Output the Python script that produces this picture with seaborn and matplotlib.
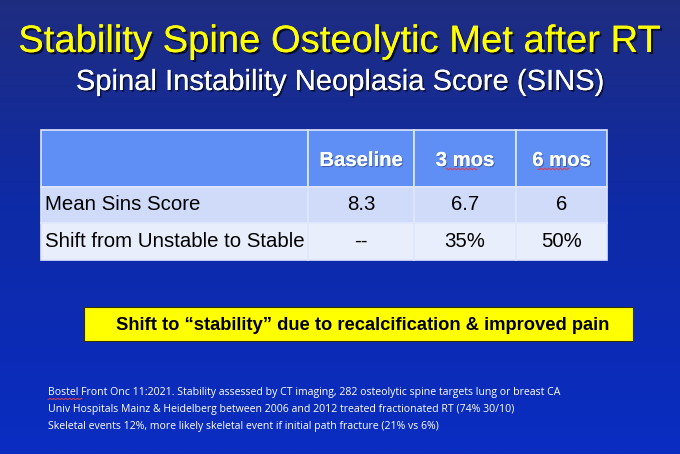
import numpy as np
import matplotlib
matplotlib.use("Agg")
import matplotlib.pyplot as plt
import matplotlib.patheffects as pe
from matplotlib.patches import Rectangle
from matplotlib.colors import LinearSegmentedColormap
import seaborn as sns

# ---- data ----
title = "Stability Spine Osteolytic Met after RT"
subtitle = "Spinal Instability Neoplasia Score (SINS)"
col_headers = ["", "Baseline", "3 mos", "6 mos"]
row_labels = ["Mean Sins Score", "Shift from Unstable to Stable"]
mean_sins = ["8.3", "6.7", "6"]
shift_stable = ["--", "35%", "50%"]
highlight = "Shift to \u201cstability\u201d due to recalcification & improved pain"
footnotes = [
    "Bostel Front Onc 11:2021. Stability assessed by CT imaging, 282 osteolytic spine targets lung or breast CA",
    "Univ Hospitals Mainz & Heidelberg between 2006 and 2012 treated fractionated RT (74% 30/10)",
    "Skeletal events 12%, more likely skeletal event if initial path fracture (21% vs 6%)",
]

sns.set_theme(style="white")
plt.rcParams["font.family"] = ["Liberation Sans", "DejaVu Sans"]

W, H = 680, 454
fig = plt.figure(figsize=(6.8, 4.54), dpi=100)
ax = fig.add_axes([0, 0, 1, 1])
ax.set_xlim(0, W)
ax.set_ylim(H, 0)
ax.axis("off")

# background gradient
grad = np.linspace(0, 1, 256).reshape(-1, 1)
bg_cmap = LinearSegmentedColormap.from_list(
    "bg", [(0, "#1f2d80"), (0.45, "#0e2aa6"), (1, "#0a2dc2")])
ax.imshow(grad, cmap=bg_cmap, extent=[0, W, H, 0], aspect="auto", zorder=0)

# titles
ax.text(340, 42, title, color="#ffff00", fontsize=27.5, ha="center", va="center",
        path_effects=[pe.withSimplePatchShadow(offset=(1.5, -1.5), shadow_rgbFace="black", alpha=0.7),
                      pe.Normal()], zorder=3)
ax.text(340, 82, subtitle, color="white", fontsize=21, ha="center", va="center",
        path_effects=[pe.withSimplePatchShadow(offset=(1.2, -1.2), shadow_rgbFace="black", alpha=0.6),
                      pe.Normal()], zorder=3)

# table
col_edges = [41, 308, 414, 516, 607]
row_edges = [130, 187, 223, 260]
row_colors = ["#5f8ff4", "#d0dbfa", "#e9eefc"]
rows = [col_headers, [row_labels[0]] + mean_sins, [row_labels[1]] + shift_stable]
for r in range(3):
    for c in range(4):
        x0, x1 = col_edges[c], col_edges[c + 1]
        y0, y1 = row_edges[r], row_edges[r + 1]
        ax.add_patch(Rectangle((x0, y0), x1 - x0, y1 - y0, facecolor=row_colors[r],
                               edgecolor="#dfe7fd", linewidth=1.2, zorder=2))
        txt = rows[r][c]
        if not txt:
            continue
        yc = (y0 + y1) / 2 + (2 if r == 0 else 0)
        if r == 0:
            ax.text((x0 + x1) / 2, yc, txt, color="white", fontsize=14.6, fontweight="bold",
                    ha="center", va="center", zorder=4,
                    path_effects=[pe.withSimplePatchShadow(offset=(0.8, -0.8), shadow_rgbFace="#203070", alpha=0.5),
                                  pe.Normal()])
        elif c == 0:
            ax.text(x0 + 4, yc, txt, color="black", fontsize=14.7, ha="left", va="center", zorder=4)
        else:
            ax.text((x0 + x1) / 2, yc, txt, color="black", fontsize=14.7, ha="center",
                    va="center", zorder=4)

# spellcheck squiggles under "mos"
for xs in [(446, 477), (538, 569)]:
    xx = np.linspace(xs[0], xs[1], 40)
    ax.plot(xx, 169 + 0.8 * np.sin(xx * 1.6), color="#e04050", lw=0.8, zorder=5)

# highlight box
ax.add_patch(Rectangle((84, 307), 549, 34, facecolor="#ffff00", edgecolor="#333300",
                       linewidth=0.8, zorder=2))
ax.text(363, 325, highlight, color="black", fontsize=13.2, fontweight="bold",
        ha="center", va="center", zorder=4)

# footnotes
for i, line in enumerate(footnotes):
    ax.text(48, 392 + 17.5 * i, line, color="white", fontsize=7.6, ha="left", va="center",
            family=["Open Sans", "DejaVu Sans"], zorder=4)
xx = np.linspace(48, 82, 40)
ax.plot(xx, 399 + 0.6 * np.sin(xx * 1.6), color="#e04050", lw=0.7, zorder=5)

fig.savefig("out.png", dpi=100)
